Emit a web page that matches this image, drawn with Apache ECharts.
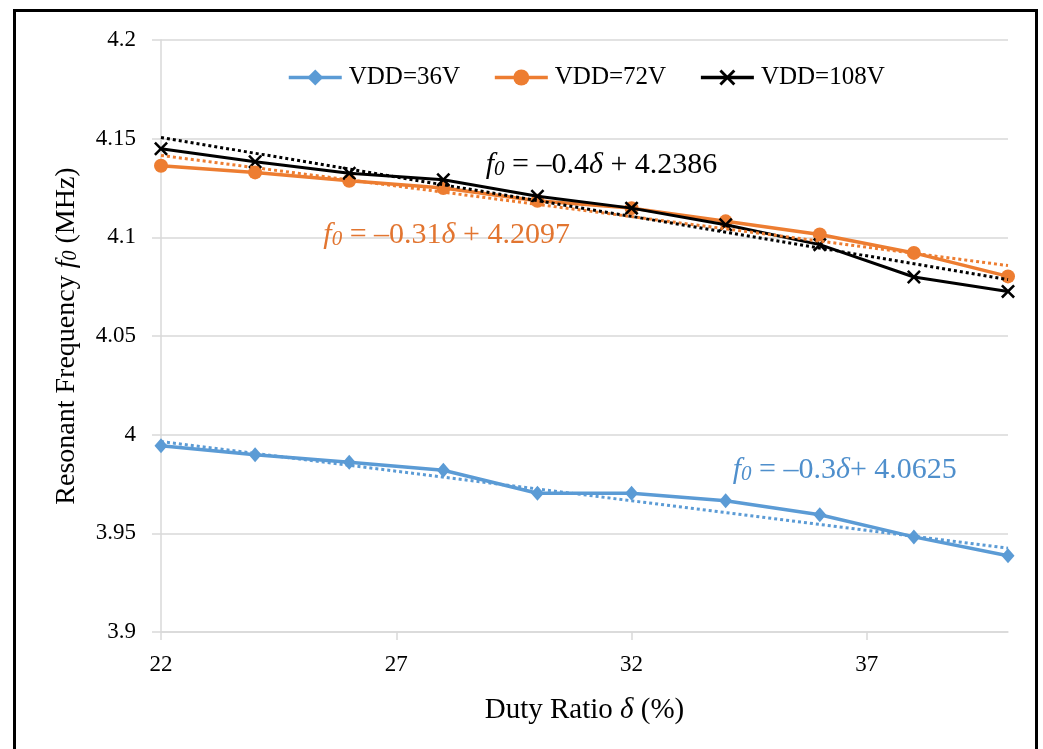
<!DOCTYPE html>
<html>
<head>
<meta charset="utf-8">
<script src="https://cdn.jsdelivr.net/npm/echarts@6/dist/echarts.min.js"></script>
<style>
  html, body { margin: 0; padding: 0; background: #fff; }
  #chart { width: 1043px; height: 749px; }
</style>
</head>
<body>
<div id="chart"></div>
<script>
// Duty ratio (%) at which the resonant frequency was measured
const dutyRatio = [22, 24, 26, 28, 30, 32, 34, 36, 38, 40];
// Resonant frequency f0 (MHz) for each supply voltage
const f0_36V  = [3.9944, 3.9898, 3.9860, 3.9820, 3.9703, 3.9703, 3.9665, 3.9594, 3.9482, 3.9386];
const f0_72V  = [4.1363, 4.1329, 4.1287, 4.1250, 4.1185, 4.1148, 4.1081, 4.1014, 4.0921, 4.0802];
const f0_108V = [4.1449, 4.1383, 4.1325, 4.1292, 4.1208, 4.1148, 4.1064, 4.0963, 4.0799, 4.0726];
const seriesNames = ['VDD=36V', 'VDD=72V', 'VDD=108V'];

// Linear-fit end points (δ = 22 % and δ = 40 %)
const fitX     = [22, 40];
const fit36V   = [3.9965, 3.9425];
const fit72V   = [4.1415, 4.0857];
const fit108V  = [4.1506, 4.0786];

// Fit equations and where they are written (data coordinates, left/middle anchor)
const eqTexts = [
  '{i|f}{s|0} = \u20130.4{i|\u03b4} + 4.2386',
  '{i|f}{s|0} = \u20130.31{i|\u03b4} + 4.2097',
  '{i|f}{s|0} = \u20130.3{i|\u03b4}+ 4.0625'
];
const eqAnchors = [[28.9, 4.1368], [25.45, 4.1012], [34.15, 3.9822]];

// Axis ticks
const xTicks = [22, 27, 32, 37];
const yMin = 3.9, yMax = 4.2, yStep = 0.05;

const BLUE = '#5b9bd5', ORANGE = '#ed7d31', BLACK = '#000000';
const ORANGE_TXT = '#e27530', BLUE_TXT = '#4f8fcc';
const GRIDC = '#d9d9d9';
const FONT = '"Liberation Serif", "Times New Roman", serif';
const CROSS = 'path://M0,1.3L1.3,0L5,3.7L8.7,0L10,1.3L6.3,5L10,8.7L8.7,10L5,6.3L1.3,10L0,8.7L3.7,5Z';

const pairs = (xs, ys) => xs.map((x, i) => [x, ys[i]]);

function eqRich(color) {
  return {
    i: { fontFamily: FONT, fontSize: 30, fontStyle: 'italic', color: color },
    s: { fontFamily: FONT, fontSize: 21, fontStyle: 'italic', color: color, padding: [10, 0, 0, 0] }
  };
}

const chart = echarts.init(document.getElementById('chart'), null, { renderer: 'canvas' });

const option = {
  backgroundColor: '#ffffff',
  animation: false,
  textStyle: { fontFamily: FONT },
  graphic: [{
    type: 'rect',
    shape: { x: 14.5, y: 10.5, width: 1022, height: 800 },
    style: { fill: 'none', stroke: '#000', lineWidth: 3 },
    silent: true
  }],
  legend: {
    data: seriesNames,
    left: 282,
    top: 60,
    itemWidth: 53,
    itemHeight: 20,
    itemGap: 33,
    lineStyle: { width: 3.5 },
    textStyle: { fontFamily: FONT, fontSize: 25, color: '#000', padding: [0, 0, 0, 2] }
  },
  grid: { left: 161, right: 35, top: 40, bottom: 117 },
  xAxis: {
    type: 'value',
    min: 22,
    max: 40,
    name: 'Duty Ratio {i|\u03b4} (%)',
    nameLocation: 'middle',
    nameGap: 64,
    nameTextStyle: {
      fontFamily: FONT, fontSize: 29, color: '#000',
      rich: { i: { fontFamily: FONT, fontSize: 29, fontStyle: 'italic', color: '#000' } }
    },
    axisLine: { show: true, lineStyle: { color: GRIDC, width: 1.5 } },
    axisTick: { show: true, length: 8, customValues: xTicks, lineStyle: { color: GRIDC, width: 1.5 } },
    axisLabel: { customValues: xTicks, fontFamily: FONT, fontSize: 23, color: '#000', margin: 21 },
    splitLine: { show: false }
  },
  yAxis: {
    type: 'value',
    min: yMin,
    max: yMax,
    interval: yStep,
    name: 'Resonant Frequency {i|f}{s|0} (MHz)',
    nameLocation: 'middle',
    nameGap: 80,
    nameTextStyle: {
      fontFamily: FONT, fontSize: 28, color: '#000',
      rich: {
        i: { fontFamily: FONT, fontSize: 28, fontStyle: 'italic', color: '#000' },
        s: { fontFamily: FONT, fontSize: 20, fontStyle: 'italic', color: '#000', padding: [9, 0, 0, 0] }
      }
    },
    axisLine: { show: true, lineStyle: { color: GRIDC, width: 1.5 } },
    axisTick: { show: true, length: 9, lineStyle: { color: GRIDC, width: 1.5 } },
    axisLabel: {
      fontFamily: FONT, fontSize: 23, color: '#000', margin: 25,
      formatter: v => String(parseFloat(v.toFixed(2)))
    },
    splitLine: { show: true, lineStyle: { color: GRIDC, width: 1.5 } }
  },
  series: [
    {
      name: seriesNames[0], type: 'line', data: pairs(dutyRatio, f0_36V),
      symbol: 'diamond', symbolSize: [13, 15],
      lineStyle: { color: BLUE, width: 3.5 }, itemStyle: { color: BLUE }, z: 3
    },
    {
      name: seriesNames[1], type: 'line', data: pairs(dutyRatio, f0_72V),
      symbol: 'circle', symbolSize: 14,
      lineStyle: { color: ORANGE, width: 3.5 }, itemStyle: { color: ORANGE }, z: 4
    },
    {
      name: seriesNames[2], type: 'line', data: pairs(dutyRatio, f0_108V),
      symbol: CROSS, symbolSize: 14,
      lineStyle: { color: BLACK, width: 3 }, itemStyle: { color: BLACK }, z: 5
    },
    {
      name: 'fit36', type: 'line', data: pairs(fitX, fit36V), symbol: 'none',
      lineStyle: { color: BLUE, width: 3, type: [3, 3], cap: 'butt' }, z: 6, silent: true
    },
    {
      name: 'fit72', type: 'line', data: pairs(fitX, fit72V), symbol: 'none',
      lineStyle: { color: ORANGE, width: 3, type: [3, 3], cap: 'butt' }, z: 6, silent: true
    },
    {
      name: 'fit108', type: 'line', data: pairs(fitX, fit108V), symbol: 'none',
      lineStyle: { color: BLACK, width: 3, type: [3, 3], cap: 'butt' }, z: 7, silent: true
    },
    {
      name: 'equations', type: 'scatter', silent: true, z: 8,
      symbolSize: 1,
      itemStyle: { color: 'transparent', opacity: 1 },
      data: eqAnchors.map((p, k) => ({
        value: p,
        label: {
          show: true,
          position: 'inside',
          align: 'left',
          verticalAlign: 'middle',
          formatter: eqTexts[k],
          fontFamily: FONT,
          fontSize: 30,
          opacity: 1,
          color: [BLACK, ORANGE_TXT, BLUE_TXT][k],
          rich: eqRich([BLACK, ORANGE_TXT, BLUE_TXT][k])
        }
      }))
    }
  ]
};

chart.setOption(option);
</script>
</body>
</html>
